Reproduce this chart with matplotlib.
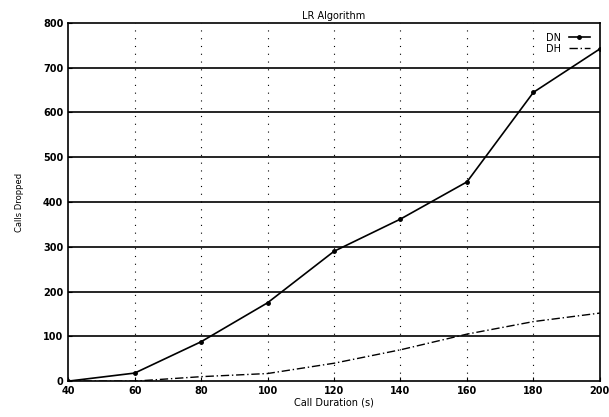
import matplotlib
matplotlib.use("Agg")
import matplotlib.pyplot as plt

# call duration (s)
durations = [40, 60, 80, 100, 120, 140, 160, 180, 200]
# calls dropped
dn_dropped = [0, 18, 88, 175, 290, 362, 445, 645, 742]
dh_dropped = [0, 0, 10, 17, 40, 70, 105, 133, 152]

x_ticks = [40, 60, 80, 100, 120, 140, 160, 180, 200]
y_ticks = [0, 100, 200, 300, 400, 500, 600, 700, 800]

fig = plt.figure(figsize=(6.09, 4.17), dpi=100)
ax = fig.add_axes([0.112, 0.086, 0.873, 0.859])

# horizontal solid grid, vertical dotted grid
for y in y_ticks[1:-1]:
    ax.axhline(y, color="black", lw=1.2, zorder=1)
for x in x_ticks[1:-1]:
    ax.axvline(x, color="black", lw=0.8, ls=(0, (1, 6)), zorder=1)

ax.plot(durations, dn_dropped, color="black", lw=1.2, marker="o", ms=2.5,
        label="DN", zorder=3)
ax.plot(durations, dh_dropped, color="black", lw=1.0, ls=(0, (6, 2, 1, 2)),
        label="DH", zorder=3)

ax.set_xlim(40, 200)
ax.set_ylim(0, 800)
ax.set_xticks(x_ticks)
ax.set_yticks(y_ticks)
ax.tick_params(labelsize=7, length=3, direction="in")
for lbl in ax.get_xticklabels() + ax.get_yticklabels():
    lbl.set_fontweight("bold")
for s in ax.spines.values():
    s.set_linewidth(1.2)

ax.set_title("LR Algorithm", fontsize=7, pad=3)
ax.set_xlabel("Call Duration (s)", fontsize=7, labelpad=1)
ax.set_ylabel("Calls Dropped", fontsize=6, labelpad=14)

leg = ax.legend(loc="upper right", fontsize=7, frameon=False,
                handlelength=2.2, labelspacing=0.1, markerfirst=False,
                borderaxespad=0.6)

fig.savefig("out.png", dpi=100)
